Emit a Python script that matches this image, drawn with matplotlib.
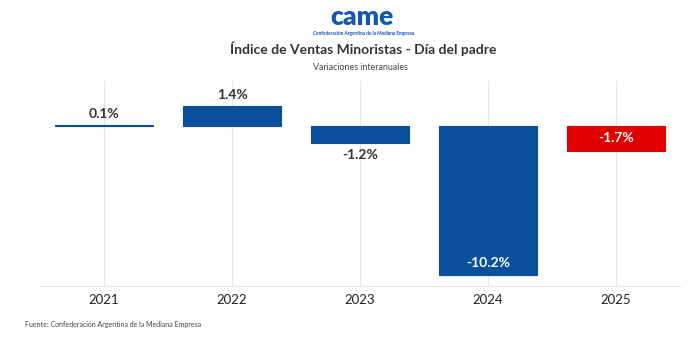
import numpy as np
import matplotlib.pyplot as plt

plt.rcParams['font.family'] = ['Lato', 'DejaVu Sans']

years = ['2021', '2022', '2023', '2024', '2025']
variation = [0.1, 1.4, -1.2, -10.2, -1.7]

BLUE = '#0a4f9c'
RED = '#e00000'
colors = [BLUE, BLUE, BLUE, BLUE, RED]

fig = plt.figure(figsize=(6.99, 3.42), dpi=100)
ax = fig.add_axes([40 / 699, (342 - 286) / 342, 640 / 699, (286 - 81) / 342])

x = np.arange(len(years))
bars = ax.bar(x, variation, width=0.76, color=colors, edgecolor=colors,
              linewidth=0.8, zorder=2)

ax.set_xlim(-0.5, len(years) - 0.5)
ax.set_ylim(-10.96, 3.08)
ax.set_xticks(x)
ax.set_xticklabels(years, fontsize=9.5, color='#222222')
ax.tick_params(axis='x', length=0, pad=6)
ax.set_yticks([])
ax.grid(axis='x', color='#e6e6e6', linewidth=0.8, zorder=0)
for side in ['top', 'right', 'left']:
    ax.spines[side].set_visible(False)
ax.spines['bottom'].set_color('#e6e6e6')
ax.spines['bottom'].set_linewidth(0.8)

# value labels: above for gains, below / inside for drops
for i, v in enumerate(variation):
    txt = f'{v:.1f}%'
    if v >= 0:
        ax.text(i, v + 0.3, txt, ha='center', va='bottom', fontsize=10,
                fontweight='bold', color='#333333')
    elif i == 2:
        ax.text(i, v - 0.35, txt, ha='center', va='top', fontsize=10,
                fontweight='bold', color='#333333')
    elif i == 3:
        ax.text(i, v + 0.4, txt, ha='center', va='bottom', fontsize=10,
                fontweight='bold', color='white')
    else:
        ax.text(i, v / 2, txt, ha='center', va='center', fontsize=10,
                fontweight='bold', color='white')

# header: logo text, title, subtitle
fig.text(362 / 699, 1 - 17 / 342, 'came', ha='center', va='center',
         fontsize=19, fontweight='heavy', color='#1257b0')
fig.text(364 / 699, 1 - 34 / 342, 'Confederación Argentina de la Mediana Empresa',
         ha='center', va='center', fontsize=3.4, fontweight='bold', color='#1257b0')
fig.text(363 / 699, 1 - 49 / 342, 'Índice de Ventas Minoristas - Día del padre',
         ha='center', va='center', fontsize=10, fontweight='bold', color='#333333')
fig.text(360 / 699, 1 - 67 / 342, 'Variaciones interanuales',
         ha='center', va='center', fontsize=6.4, color='#444444')
fig.text(25 / 699, 1 - 325 / 342, 'Fuente: Confederación Argentina de la Mediana Empresa',
         ha='left', va='center', fontsize=5, color='#444444')

fig.savefig('out.png', dpi=100)
